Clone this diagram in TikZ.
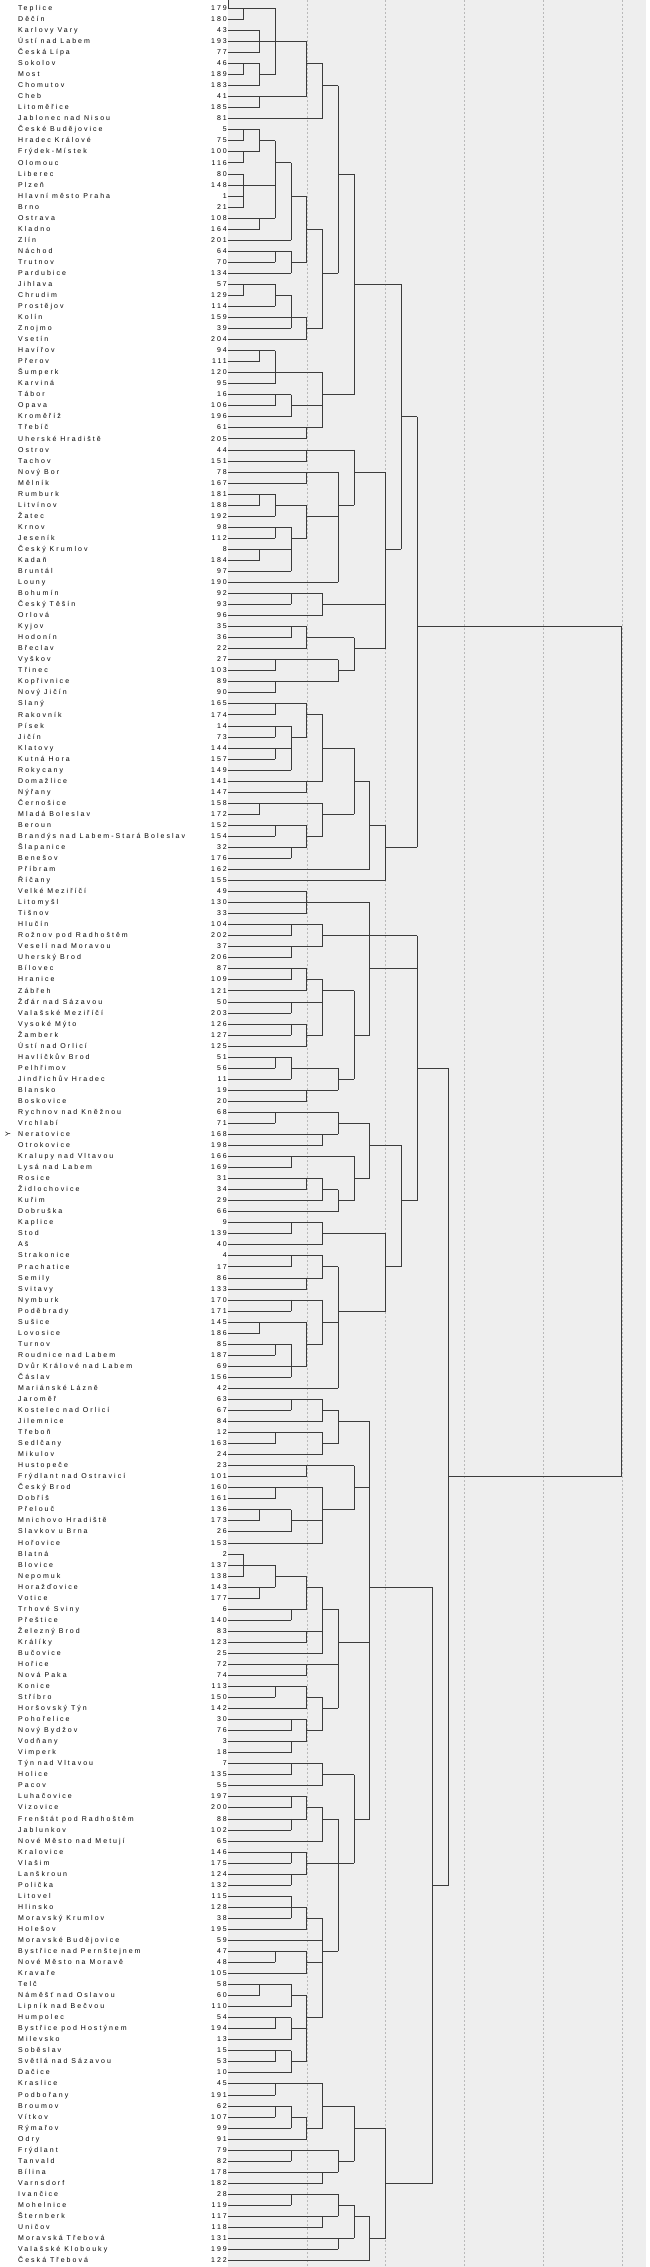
\documentclass[tikz,border=0pt]{standalone}
\usepackage{fontspec}
\newfontfamily\lblf[LetterSpace=29]{Liberation Sans}
\definecolor{bgc}{RGB}{238,238,238}
\definecolor{trc}{RGB}{60,60,60}
\definecolor{grc}{RGB}{185,185,185}
\tikzset{
  lbl/.style={font=\lblf\fontsize{7}{8}\selectfont, inner sep=0pt, text=black},
  tr/.style={draw=trc, line width=0.75pt},
  gridline/.style={draw=grc, line width=0.5pt, dash pattern=on 2pt off 2pt}
}
\begin{document}
\begin{tikzpicture}
\useasboundingbox (0pt,0pt) rectangle (650pt,-2267pt);
\fill[bgc] (228pt,0pt) rectangle (646pt,-2267pt);
\node[lbl,rotate=90,anchor=center] (ylab) at (8pt,-1134pt) {Y};
\begin{scope}[x=15.75pt, y=-11.04pt, shift={(228pt,2.74pt)}]
\foreach \k in {5,10,15,20,25} \draw[gridline] (\k,0.248) -- (\k,205.59);
\draw[tr] (0,0.248) -- (0,1);
\foreach \r/\nm/\nb/\lv in {
1/Teplice/179/1, 2/Děčín/180/1, 3/Karlovy Vary/43/2, 4/Ústí nad Labem/193/2, 5/Česká Lípa/77/2,
6/Sokolov/46/1, 7/Most/189/1, 8/Chomutov/183/2, 9/Cheb/41/2, 10/Litoměřice/185/2,
11/Jablonec nad Nisou/81/6, 12/České Budějovice/5/1, 13/Hradec Králové/75/1, 14/Frýdek-Místek/100/1, 15/Olomouc/116/1,
16/Liberec/80/1, 17/Plzeň/148/1, 18/Hlavní město Praha/1/1, 19/Brno/21/1, 20/Ostrava/108/2,
21/Kladno/164/2, 22/Zlín/201/4, 23/Náchod/64/3, 24/Trutnov/70/3, 25/Pardubice/134/4,
26/Jihlava/57/1, 27/Chrudim/129/1, 28/Prostějov/114/3, 29/Kolín/159/4, 30/Znojmo/39/4,
31/Vsetín/204/5, 32/Havířov/94/2, 33/Přerov/111/2, 34/Šumperk/120/3, 35/Karviná/95/3,
36/Tábor/16/3, 37/Opava/106/3, 38/Kroměříž/196/4, 39/Třebíč/61/5, 40/Uherské Hradiště/205/5,
41/Ostrov/44/5, 42/Tachov/151/5, 43/Nový Bor/78/5, 44/Mělník/167/5, 45/Rumburk/181/2,
46/Litvínov/188/2, 47/Žatec/192/3, 48/Krnov/98/3, 49/Jeseník/112/3, 50/Český Krumlov/8/2,
51/Kadaň/184/2, 52/Bruntál/97/4, 53/Louny/190/7, 54/Bohumín/92/4, 55/Český Těšín/93/4,
56/Orlová/96/6, 57/Kyjov/35/4, 58/Hodonín/36/4, 59/Břeclav/22/5, 60/Vyškov/27/3,
61/Třinec/103/3, 62/Kopřivnice/89/3, 63/Nový Jičín/90/3, 64/Slaný/165/3, 65/Rakovník/174/3,
66/Písek/14/3, 67/Jičín/73/3, 68/Klatovy/144/3, 69/Kutná Hora/157/3, 70/Rokycany/149/4,
71/Domažlice/141/5, 72/Nýřany/147/5, 73/Černošice/158/2, 74/Mladá Boleslav/172/2, 75/Beroun/152/3,
76/Brandýs nad Labem-Stará Boleslav/154/3, 77/Šlapanice/32/4, 78/Benešov/176/4, 79/Příbram/162/9, 80/Říčany/155/10,
81/Velké Meziříčí/49/5, 82/Litomyšl/130/5, 83/Tišnov/33/5, 84/Hlučín/104/4, 85/Rožnov pod Radhoštěm/202/4,
86/Veselí nad Moravou/37/4, 87/Uherský Brod/206/4, 88/Bílovec/87/4, 89/Hranice/109/4, 90/Zábřeh/121/5,
91/Žďár nad Sázavou/50/4, 92/Valašské Meziříčí/203/4, 93/Vysoké Mýto/126/4, 94/Žamberk/127/4, 95/Ústí nad Orlicí/125/5,
96/Havlíčkův Brod/51/3, 97/Pelhřimov/56/3, 98/Jindřichův Hradec/11/4, 99/Blansko/19/5, 100/Boskovice/20/5,
101/Rychnov nad Kněžnou/68/3, 102/Vrchlabí/71/3, 103/Neratovice/168/6, 104/Otrokovice/198/6, 105/Kralupy nad Vltavou/166/4,
106/Lysá nad Labem/169/4, 107/Rosice/31/5, 108/Židlochovice/34/5, 109/Kuřim/29/6, 110/Dobruška/66/7,
111/Kaplice/9/4, 112/Stod/139/4, 113/Aš/40/6, 114/Strakonice/4/4, 115/Prachatice/17/4,
116/Semily/86/5, 117/Svitavy/133/5, 118/Nymburk/170/4, 119/Poděbrady/171/4, 120/Sušice/145/2,
121/Lovosice/186/2, 122/Turnov/85/3, 123/Roudnice nad Labem/187/3, 124/Dvůr Králové nad Labem/69/4, 125/Čáslav/156/4,
126/Mariánské Lázně/42/7, 127/Jaroměř/63/4, 128/Kostelec nad Orlicí/67/4, 129/Jilemnice/84/6, 130/Třeboň/12/3,
131/Sedlčany/163/3, 132/Mikulov/24/6, 133/Hustopeče/23/5, 134/Frýdlant nad Ostravicí/101/5, 135/Český Brod/160/3,
136/Dobříš/161/3, 137/Přelouč/136/2, 138/Mnichovo Hradiště/173/2, 139/Slavkov u Brna/26/4, 140/Hořovice/153/6,
141/Blatná/2/1, 142/Blovice/137/1, 143/Nepomuk/138/1, 144/Horažďovice/143/2, 145/Votice/177/2,
146/Trhové Sviny/6/4, 147/Přeštice/140/4, 148/Železný Brod/83/5, 149/Králíky/123/5, 150/Bučovice/25/6,
151/Hořice/72/5, 152/Nová Paka/74/5, 153/Konice/113/3, 154/Stříbro/150/3, 155/Horšovský Týn/142/5,
156/Pohořelice/30/4, 157/Nový Bydžov/76/4, 158/Vodňany/3/4, 159/Vimperk/18/4, 160/Týn nad Vltavou/7/4,
161/Holice/135/4, 162/Pacov/55/6, 163/Luhačovice/197/4, 164/Vizovice/200/4, 165/Frenštát pod Radhoštěm/88/4,
166/Jablunkov/102/4, 167/Nové Město nad Metují/65/6, 168/Kralovice/146/4, 169/Vlašim/175/4, 170/Lanškroun/124/4,
171/Polička/132/4, 172/Litovel/115/4, 173/Hlinsko/128/4, 174/Moravský Krumlov/38/4, 175/Holešov/195/5,
176/Moravské Budějovice/59/6, 177/Bystřice nad Pernštejnem/47/3, 178/Nové Město na Moravě/48/3, 179/Kravaře/105/5, 180/Telč/58/2,
181/Náměšť nad Oslavou/60/2, 182/Lipník nad Bečvou/110/4, 183/Humpolec/54/3, 184/Bystřice pod Hostýnem/194/3, 185/Milevsko/13/4,
186/Soběslav/15/3, 187/Světlá nad Sázavou/53/3, 188/Dačice/10/4, 189/Kraslice/45/3, 190/Podbořany/191/3,
191/Broumov/62/3, 192/Vítkov/107/3, 193/Rýmařov/99/4, 194/Odry/91/5, 195/Frýdlant/79/4,
196/Tanvald/82/4, 197/Bílina/178/6, 198/Varnsdorf/182/6, 199/Ivančice/28/4, 200/Mohelnice/119/4,
201/Šternberk/117/6, 202/Uničov/118/6, 203/Moravská Třebová/131/7, 204/Valašské Klobouky/199/7, 205/Česká Třebová/122/9}
{
  \node[lbl,anchor=mid west] (L\r) at (-13.333,\r) {\nm};
  \node[lbl,anchor=mid east] (N\r) at (-0.06,\r) {\nb};
  \draw[tr] (0,\r) -- (\lv,\r);
}
\foreach \k/\a/\b in {
1/1/2, 2/3/5, 1/6/7, 2/6/8, 3/1/7, 2/9/10, 5/4/9, 6/6/11,
1/12/13, 1/14/15, 2/12/14, 1/16/19, 2/20/21, 3/13/20, 4/15/22, 3/23/24, 4/23/25, 5/18/24, 1/26/27, 3/26/28, 4/27/30, 5/29/31, 6/21/30, 7/8/25,
2/32/33, 3/32/35, 3/36/37, 4/36/38, 5/39/40, 6/34/39, 8/16/36,
5/41/42, 5/43/44, 2/45/46, 3/45/47, 3/48/49, 2/50/51, 4/48/52, 5/46/49, 7/43/53, 8/41/46, 4/54/55, 6/54/56, 4/57/58, 5/57/59, 3/60/61, 3/62/63, 7/60/62, 8/58/61, 10/43/59, 11/26/50,
3/64/65, 3/66/67, 3/68/69, 4/66/70, 5/64/67, 5/71/72, 6/65/71, 2/73/74, 3/75/76, 4/77/78, 5/75/77, 6/73/76, 8/68/74, 9/71/79, 10/75/80, 12/38/77,
5/81/83, 4/84/85, 4/86/87, 6/84/86, 4/88/89, 5/88/90, 4/91/92, 4/93/94, 5/93/95, 6/89/94, 3/96/97, 4/96/98, 5/99/100, 7/97/99, 8/90/98, 9/82/94, 3/101/102, 6/103/104, 7/101/103, 4/105/106, 5/107/108, 6/107/109, 7/108/110, 8/105/109, 9/102/107, 4/111/112, 6/111/113, 4/114/115, 5/116/117, 6/114/116, 4/118/119, 2/120/121, 3/122/123, 4/122/125, 5/120/124, 6/118/122, 7/115/126, 10/112/119, 11/104/115, 12/85/109,
4/127/128, 6/127/129, 3/130/131, 6/130/132, 7/128/131, 5/133/134, 3/135/136, 2/137/138, 4/137/139, 6/135/140, 8/133/137, 1/141/143, 2/144/145, 3/142/144, 4/146/147, 5/143/146, 5/148/149, 6/144/150, 5/151/152, 3/153/154, 5/153/155, 4/156/157, 4/158/159, 5/156/158, 6/154/157, 7/146/155, 4/160/161, 6/160/162, 4/163/164, 4/165/166, 5/163/165, 6/164/167, 4/168/169, 4/170/171, 5/168/170, 4/172/174, 5/173/175, 3/177/178, 5/177/179, 2/180/181, 4/180/182, 3/183/184, 4/183/185, 3/186/187, 4/186/188, 5/181/187, 6/174/183, 7/165/177, 8/161/169, 9/129/165, 3/189/190, 3/191/192, 4/191/193, 5/192/194, 6/189/193, 4/195/196, 6/197/198, 7/195/197, 8/191/196, 4/199/200, 6/201/202, 7/199/201, 7/203/204, 8/200/203, 9/201/205, 10/193/203, 13/144/198, 14/97/171, 25/57/134}
  \draw[tr] (\k,\a) -- (\k,\b);
\foreach \r/\p/\q in {
1/1/3, 4/2/3, 6/1/2, 7/2/3, 4/3/5, 9/2/5, 6/5/6, 8/6/7,
12/1/2, 14/1/2, 13/2/3, 17/1/3, 20/2/3, 15/3/4, 18/4/5, 23/3/4, 24/4/5, 21/5/6, 26/1/3, 27/3/4, 29/4/5, 30/5/6, 25/6/7, 16/7/8,
32/2/3, 34/3/6, 36/3/4, 37/4/6, 39/5/6, 36/6/8, 26/8/11,
41/5/8, 43/5/7, 45/2/3, 46/3/5, 48/3/4, 50/2/4, 49/4/5, 47/5/7, 46/7/8, 43/8/10, 54/4/6, 55/6/10, 57/4/5, 58/5/8, 60/3/7, 62/3/7, 61/7/8, 59/8/10, 50/10/11, 38/11/12,
64/3/5, 66/3/4, 68/3/4, 67/4/5, 65/5/6, 71/5/6, 68/6/8, 73/2/6, 75/3/5, 77/4/5, 76/5/6, 74/6/8, 71/8/9, 75/9/10, 77/10/12, 57/12/25,
82/5/9, 84/4/6, 86/4/6, 85/6/12, 88/4/5, 89/5/6, 91/4/6, 93/4/5, 94/5/6, 90/6/8, 96/3/4, 97/4/7, 99/5/7, 98/7/8, 94/8/9, 88/9/12, 101/3/7, 103/6/7, 102/7/9, 105/4/8, 107/5/6, 108/6/7, 109/7/8, 107/8/9, 104/9/11, 111/4/6, 112/6/10, 114/4/6, 116/5/6, 115/6/7, 118/4/6, 120/2/5, 122/3/4, 124/4/5, 122/5/6, 120/6/7, 119/7/10, 115/10/11, 109/11/12, 97/12/14,
127/4/6, 128/6/7, 130/3/6, 131/6/7, 129/7/9, 133/5/8, 135/3/6, 137/2/4, 138/4/6, 137/6/8, 135/8/9, 142/1/3, 144/2/3, 143/3/5, 146/4/5, 144/5/6, 148/5/6, 146/6/7, 151/5/7, 153/3/5, 154/5/6, 156/4/5, 158/4/5, 157/5/6, 155/6/7, 149/7/9, 160/4/6, 161/6/8, 163/4/5, 165/4/5, 164/5/6, 165/6/7, 168/4/5, 170/4/5, 169/5/7, 173/4/5, 174/5/6, 177/3/5, 178/5/6, 180/2/4, 181/4/5, 183/3/4, 184/4/5, 186/3/4, 187/4/5, 183/5/6, 177/6/7, 169/7/8, 165/8/9, 144/9/13, 189/3/6, 191/3/4, 192/4/5, 193/5/6, 191/6/8, 195/4/7, 197/6/7, 196/7/8, 193/8/10, 199/4/7, 201/6/7, 200/7/8, 203/7/8, 201/8/9, 203/9/10, 198/10/13, 171/13/14, 134/14/25}
  \draw[tr] (\p,\r) -- (\q,\r);
\end{scope}
\end{tikzpicture}
\end{document}
